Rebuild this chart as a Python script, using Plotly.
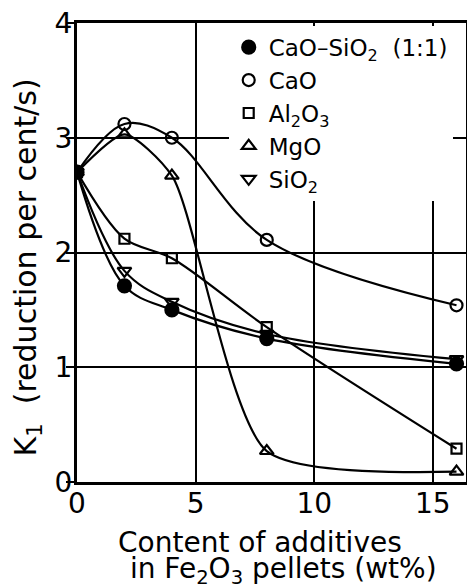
import plotly.graph_objects as go

x_vals = [0, 2, 4, 8, 16]
cao_sio2 = [2.7, 1.71, 1.50, 1.25, 1.03]
cao = [2.7, 3.12, 3.0, 2.11, 1.54]
al2o3 = [2.7, 2.12, 1.95, 1.35, 0.29]
mgo = [2.7, 3.03, 2.67, 0.27, 0.09]
sio2 = [2.7, 1.84, 1.57, 1.29, 1.07]

names = ["CaO–SiO<sub>2</sub>  (1:1)", "CaO", "Al<sub>2</sub>O<sub>3</sub>", "MgO", "SiO<sub>2</sub>"]
series = [cao_sio2, cao, al2o3, mgo, sio2]
symbols = ["circle", "circle-open", "square-open", "triangle-up-open", "triangle-down-open"]
sizes = [13, 12, 10, 12, 12]
smooth = [1.0, 1.0, 0.9, 0.65, 1.0]

x_ticks = [0, 5, 10, 15]
y_ticks = [0, 1, 2, 3, 4]
x_title_lines = ["Content of additives", " in Fe<sub>2</sub>O<sub>3</sub> pellets (wt%)"]
y_title = "K<sub>1</sub>  (reduction per cent/s)"

fig = go.Figure()
for nm, ys, sm in zip(names, series, smooth):
    fig.add_trace(go.Scatter(
        x=x_vals, y=ys, mode="lines", showlegend=False, hoverinfo="skip",
        line=dict(color="black", width=2.2, shape="spline", smoothing=sm),
    ))
for nm, ys, sym, sz in zip(names, series, symbols, sizes):
    fig.add_trace(go.Scatter(
        x=x_vals, y=ys, name=nm, mode="markers",
        marker=dict(symbol=sym, size=sz, color="black", line=dict(color="black", width=2.2)),
    ))

# page has 8px body margin; figure sized so plot area lands where the reference has it
fig.update_layout(
    width=467, height=580,
    margin=dict(l=69, r=9, t=15, b=106),
    paper_bgcolor="white", plot_bgcolor="white",
    font=dict(family="DejaVu Sans", size=24, color="black"),
    showlegend=True,
    legend=dict(x=0.39, y=0.994, xanchor="left", yanchor="top",
                bgcolor="white", borderwidth=0,
                font=dict(family="DejaVu Sans", size=23, color="black"),
                tracegroupgap=0, itemwidth=30),
    xaxis=dict(range=[0, 16.4], tickvals=x_ticks, ticktext=[str(v) for v in x_ticks],
               automargin=False,
               showgrid=True, gridcolor="black", gridwidth=2, zeroline=False,
               showline=True, linecolor="black", linewidth=3, mirror=True,
               ticks="", tickfont=dict(size=28), ticklabelstandoff=-6,
               ticklabeloverflow="allow"),
    yaxis=dict(range=[0, 4], tickvals=y_ticks, ticktext=[str(v) for v in y_ticks],
               automargin=False,
               showgrid=True, gridcolor="black", gridwidth=2, zeroline=False,
               showline=True, linecolor="black", linewidth=3, mirror=True,
               ticks="outside", ticklen=8, tickcolor="black", tickwidth=2,
               tickfont=dict(size=28), ticklabelstandoff=-12,
               ticklabeloverflow="allow"),
    annotations=[
        dict(text=x_title_lines[0], xref="paper", yref="paper", x=0.47, y=-0.132,
             xanchor="center", yanchor="middle", showarrow=False, font=dict(size=28)),
        dict(text=x_title_lines[1], xref="paper", yref="paper", x=0.52, y=-0.192,
             xanchor="center", yanchor="middle", showarrow=False, font=dict(size=28)),
        dict(text=y_title, xref="paper", yref="paper", x=-0.128, y=0.468, textangle=-90,
             xanchor="center", yanchor="middle", showarrow=False, font=dict(size=30)),
    ],
)
fig.write_html("out.html")
